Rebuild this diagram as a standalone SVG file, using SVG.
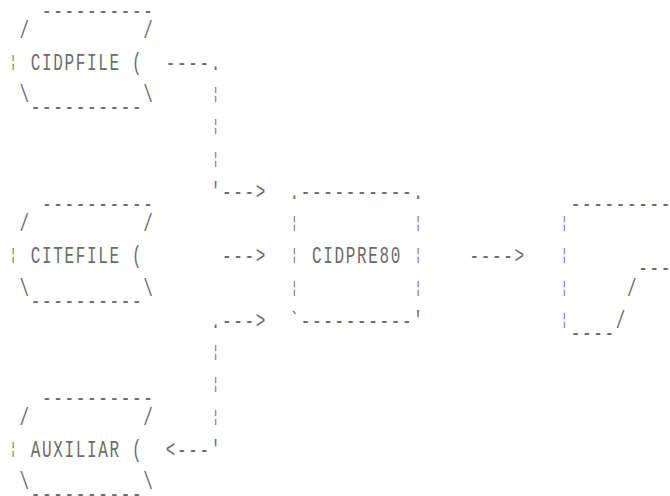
<svg xmlns="http://www.w3.org/2000/svg" width="670" height="496" viewBox="0 0 670 496">
<style>
text{font-family:"Liberation Mono","DejaVu Sans Mono",monospace;fill:#6b6b6b}
.t{font-size:16px;letter-spacing:1.65px}
.b{font-size:12px;text-anchor:middle}
</style>
<rect width="670" height="496" fill="#ffffff"/>
<g transform="scale(1,1.45)">
<g id="cidpfile">
<text class="t" x="42.075" y="12.07">----------</text>
<text class="t" x="19.575" y="26.034">/</text>
<text class="t" x="143.325" y="26.034">/</text>
<text class="b" x="13.125" y="46.21">¦</text>
<text class="t" x="30.825" y="48.276">CIDPFILE (</text>
<text class="t" x="19.575" y="70.517">\</text>
<text class="t" x="143.325" y="70.517">\</text>
<text class="t" x="30.825" y="78.79">----------</text>
</g>
<g id="citefile">
<text class="t" x="42.075" y="145.52">----------</text>
<text class="t" x="19.575" y="159.483">/</text>
<text class="t" x="143.325" y="159.483">/</text>
<text class="b" x="13.125" y="179.65">¦</text>
<text class="t" x="30.825" y="181.724">CITEFILE (</text>
<text class="t" x="19.575" y="203.966">\</text>
<text class="t" x="143.325" y="203.966">\</text>
<text class="t" x="30.825" y="212.24">----------</text>
</g>
<g id="auxiliar">
<text class="t" x="42.075" y="278.97">----------</text>
<text class="t" x="19.575" y="292.931">/</text>
<text class="t" x="143.325" y="292.931">/</text>
<text class="b" x="13.125" y="313.1">¦</text>
<text class="t" x="30.825" y="315.172">AUXILIAR (</text>
<text class="t" x="19.575" y="337.414">\</text>
<text class="t" x="143.325" y="337.414">\</text>
<text class="t" x="30.825" y="345.69">----------</text>
</g>
<g id="cidpre80">
<text class="t" x="289.575" y="137.241">.----------.</text>
<text class="b" x="294.375" y="157.41">¦</text>
<text class="b" x="418.125" y="157.41">¦</text>
<text class="b" x="294.375" y="179.65">¦</text>
<text class="t" x="312.075" y="181.724">CIDPRE80</text>
<text class="b" x="418.125" y="179.65">¦</text>
<text class="b" x="294.375" y="201.9">¦</text>
<text class="b" x="418.125" y="201.9">¦</text>
<text class="t" x="289.575" y="226.207">`----------'</text>
</g>
<g id="output">
<text class="t" x="570.825" y="145.52">---------</text>
<text class="b" x="564.375" y="157.41">¦</text>
<text class="b" x="564.375" y="179.65">¦</text>
<text class="t" x="638.325" y="190.0">---</text>
<text class="b" x="564.375" y="201.9">¦</text>
<text class="t" x="627.075" y="203.966">/</text>
<text class="b" x="564.375" y="224.14">¦</text>
<text class="t" x="615.825" y="226.207">/</text>
<text class="t" x="570.825" y="234.48">----</text>
</g>
<g id="connectors">
<text class="t" x="165.825" y="48.276">----.</text>
<text class="b" x="215.625" y="68.45">¦</text>
<text class="b" x="215.625" y="90.69">¦</text>
<text class="b" x="215.625" y="112.93">¦</text>
<text class="t" x="210.825" y="137.241">'---&gt;</text>
<text class="t" x="222.075" y="181.724">---&gt;</text>
<text class="t" x="469.575" y="181.724">----&gt;</text>
<text class="t" x="210.825" y="226.207">.---&gt;</text>
<text class="b" x="215.625" y="246.38">¦</text>
<text class="b" x="215.625" y="268.62">¦</text>
<text class="b" x="215.625" y="290.86">¦</text>
<text class="t" x="165.825" y="315.172">&lt;---'</text>
</g>
</g>
</svg>
